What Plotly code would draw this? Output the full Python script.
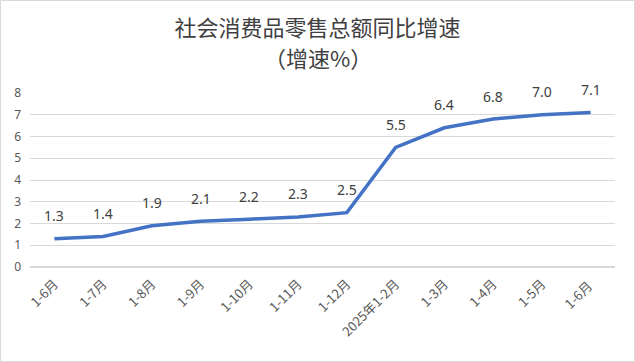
import plotly.graph_objects as go

categories = ["1-6月", "1-7月", "1-8月", "1-9月", "1-10月", "1-11月", "1-12月",
              "2025年1-2月", "1-3月", "1-4月", "1-5月", "1-6月 "]
growth = [1.3, 1.4, 1.9, 2.1, 2.2, 2.3, 2.5, 5.5, 6.4, 6.8, 7.0, 7.1]
y_ticks = [0, 1, 2, 3, 4, 5, 6, 7, 8]

W, H = 635, 362
ml, mr, mt, mb = 30, 20, 93, 95
pw = W - ml - mr
ph = H - mt - mb

fig = go.Figure()
fig.add_trace(go.Scatter(
    x=categories, y=growth, mode="lines",
    line=dict(color="#4472C4", width=3.5),
    hoverinfo="skip", showlegend=False,
))

for c, v in zip(categories, growth):
    fig.add_annotation(x=c, y=v, text=f"{v:.1f}", showarrow=False,
                       yshift=23, font=dict(family="Noto Sans, DejaVu Sans", size=14, color="#404040"))

# subtitle line
fig.add_annotation(text="（增速%）", xref="paper", yref="paper",
                   x=(W / 2 - ml) / pw, y=(H - mb - 57) / ph,
                   xanchor="center", yanchor="middle", showarrow=False,
                   font=dict(family="Noto Sans CJK SC", size=22, color="#404040"))

# outer chart border
fig.add_shape(type="rect", xref="paper", yref="paper",
              x0=(0.5 - ml) / pw, x1=(W - 0.5 - ml) / pw,
              y0=-(mb - 0.5) / ph, y1=(H - mb - 0.5) / ph,
              line=dict(color="#D9D9D9", width=1), layer="below")

fig.update_layout(
    width=W, height=H,
    margin=dict(l=ml, r=mr, t=mt, b=mb, autoexpand=False),
    paper_bgcolor="white", plot_bgcolor="white",
    title=dict(text="社会消费品零售总额同比增速",
               x=0.5, xref="container", xanchor="center", y=1 - 28 / H, yanchor="middle",
               font=dict(family="Noto Sans CJK SC", size=22, color="#404040")),
    xaxis=dict(type="category", range=[-0.5, len(categories) - 0.5], tickangle=-45,
               showgrid=False, showline=False, ticks="", automargin=False,
               ticklabelstandoff=6,
               tickfont=dict(family="Noto Sans CJK SC", size=13, color="#595959")),
    yaxis=dict(range=[0, 8], tickvals=y_ticks, showgrid=True, gridcolor="#D9D9D9",
               zeroline=True, zerolinecolor="#D9D9D9", showline=False, ticks="",
               automargin=False,
               tickfont=dict(family="Noto Sans, DejaVu Sans", size=12, color="#595959"),
               ticklabelstandoff=8),
)

fig.write_html("out.html", config={"displayModeBar": False},
               post_script="document.body.style.margin='0';")
